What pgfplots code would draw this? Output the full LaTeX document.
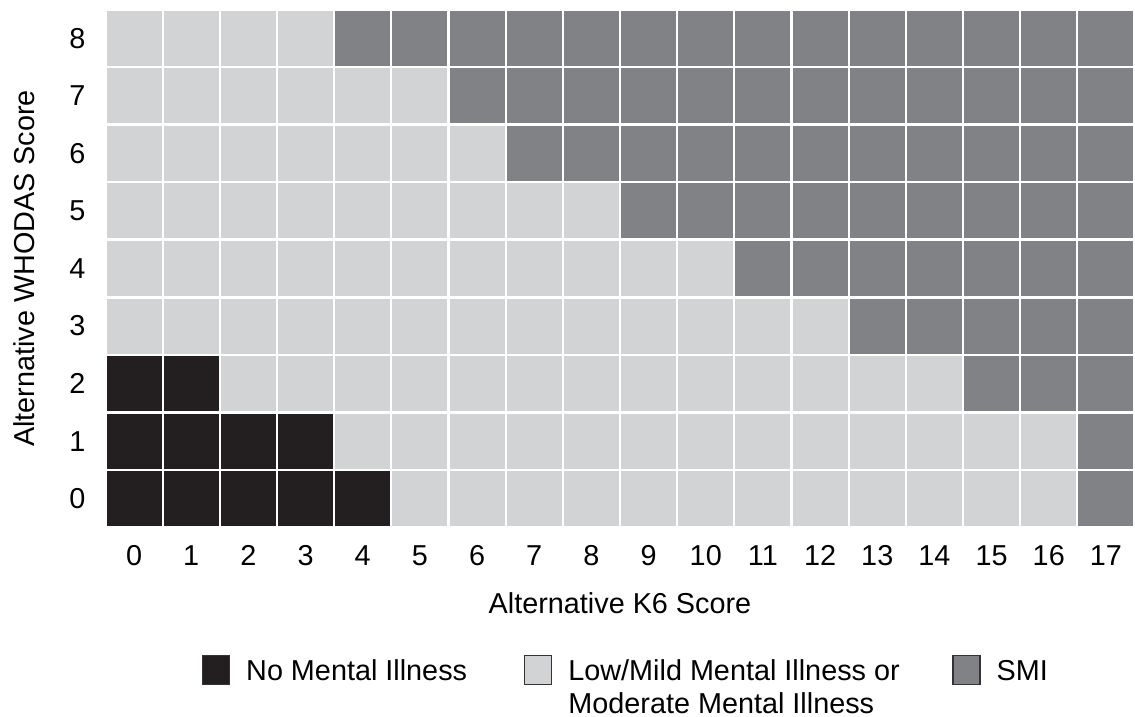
\documentclass[border=0pt]{standalone}
\usepackage{pgfplots}
\pgfplotsset{compat=1.18}
\usepackage{fontspec}
\setmainfont{Liberation Sans}
\definecolor{cnone}{RGB}{35,31,32}
\definecolor{clow}{RGB}{209,211,212}
\definecolor{csmi}{RGB}{128,130,133}
\newcommand{\ff}{\fontsize{14.4}{16.6}\selectfont}
\begin{document}
\begin{tikzpicture}[font=\ff]
\begin{axis}[
  width=514.5pt, height=259pt, scale only axis,
  xmin=-0.5, xmax=17.5, ymin=-0.5, ymax=8.5,
  clip=false,
  axis line style={draw=none},
  tick style={draw=none},
  xtick={0,...,17}, ytick={0,...,8},
  /pgf/number format/assume math mode=true,
  tick label style={font=\ff},
  xticklabel style={inner sep=0pt, anchor=north, yshift=-8.75pt},
  yticklabel style={inner sep=0pt, anchor=east, xshift=-9.8pt},
  xlabel={Alternative K6 Score},
  ylabel={Alternative WHODAS Score},
  xlabel style={font=\ff, at={(axis description cs:0.5,-0.1245)}, anchor=north, inner sep=0pt},
  ylabel style={font=\ff, at={(axis description cs:-0.0899,0.5)}, anchor=north, rotate=0, inner sep=0pt},
  legend image code/.code={\draw[#1] (0pt,-2pt) rectangle (13.5pt,12.5pt); \path (21.5pt,0pt);},
  legend columns=3,
  legend cell align=left,
  legend style={at={(axis description cs:0.0938,-0.2461)}, anchor=north west,
    draw=none, fill=none, inner sep=0pt, outer sep=0pt, row sep=0pt, column sep=0pt,
    font=\ff, nodes={inner sep=0pt, anchor=base west}},
  cell/.style={only marks, mark=square*, mark size=13.5pt, mark options={line width=0pt}},
]
\addplot[cell, color=cnone, forget plot] coordinates {
 (0,0) (1,0) (2,0) (3,0) (4,0)
 (0,1) (1,1) (2,1) (3,1)
 (0,2) (1,2)
};
\addplot[cell, color=clow, forget plot] coordinates {
 (5,0) (6,0) (7,0) (8,0) (9,0) (10,0) (11,0) (12,0) (13,0) (14,0) (15,0) (16,0)
 (4,1) (5,1) (6,1) (7,1) (8,1) (9,1) (10,1) (11,1) (12,1) (13,1) (14,1) (15,1) (16,1)
 (2,2) (3,2) (4,2) (5,2) (6,2) (7,2) (8,2) (9,2) (10,2) (11,2) (12,2) (13,2) (14,2)
 (0,3) (1,3) (2,3) (3,3) (4,3) (5,3) (6,3) (7,3) (8,3) (9,3) (10,3) (11,3) (12,3)
 (0,4) (1,4) (2,4) (3,4) (4,4) (5,4) (6,4) (7,4) (8,4) (9,4) (10,4)
 (0,5) (1,5) (2,5) (3,5) (4,5) (5,5) (6,5) (7,5) (8,5)
 (0,6) (1,6) (2,6) (3,6) (4,6) (5,6) (6,6)
 (0,7) (1,7) (2,7) (3,7) (4,7) (5,7)
 (0,8) (1,8) (2,8) (3,8)
};
\addplot[cell, color=csmi, forget plot] coordinates {
 (17,0)
 (17,1)
 (15,2) (16,2) (17,2)
 (13,3) (14,3) (15,3) (16,3) (17,3)
 (11,4) (12,4) (13,4) (14,4) (15,4) (16,4) (17,4)
 (9,5) (10,5) (11,5) (12,5) (13,5) (14,5) (15,5) (16,5) (17,5)
 (7,6) (8,6) (9,6) (10,6) (11,6) (12,6) (13,6) (14,6) (15,6) (16,6) (17,6)
 (6,7) (7,7) (8,7) (9,7) (10,7) (11,7) (12,7) (13,7) (14,7) (15,7) (16,7) (17,7)
 (4,8) (5,8) (6,8) (7,8) (8,8) (9,8) (10,8) (11,8) (12,8) (13,8) (14,8) (15,8) (16,8) (17,8)
};
\addlegendimage{fill=cnone, draw=black!80, line width=0.6pt}
\addlegendentry{\makebox[139pt][l]{No Mental Illness}}
\addlegendimage{fill=clow, draw=black!80, line width=0.6pt}
\addlegendentry{\makebox[192pt][l]{\begin{tabular}[t]{@{}l@{}}Low/Mild Mental Illness or\\Moderate Mental Illness\end{tabular}}}
\addlegendimage{fill=csmi, draw=black!80, line width=0.6pt}
\addlegendentry{SMI}
\end{axis}
\pgfresetboundingbox
\path (current axis.south west) ++(-52.75pt,-94.75pt) rectangle ++(567.5pt,358.5pt);
\end{tikzpicture}
\end{document}
